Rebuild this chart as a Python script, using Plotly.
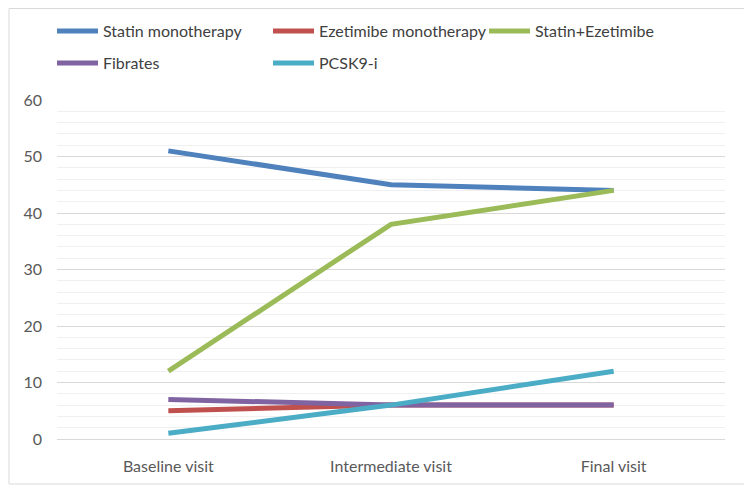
import plotly.graph_objects as go

visits = ["Baseline visit", "Intermediate visit", "Final visit"]

statin_mono = [51, 45, 44]
ezetimibe_mono = [5, 6, 6]
statin_ezetimibe = [12, 38, 44]
fibrates = [7, 6, 6]
pcsk9 = [1, 6, 12]

series = [
    ("Statin monotherapy", statin_mono, "#4F81BD", "legend"),
    ("Ezetimibe monotherapy", ezetimibe_mono, "#C0504D", "legend"),
    ("Statin+Ezetimibe", statin_ezetimibe, "#9BBB59", "legend"),
    ("Fibrates", fibrates, "#8064A2", "legend2"),
    ("PCSK9-i", pcsk9, "#4BACC6", "legend2"),
]

fig = go.Figure()
for name, vals, col, leg in series:
    fig.add_trace(go.Scatter(x=visits, y=vals, name=name, mode="lines", legend=leg,
                             line=dict(color=col, width=5)))

# page is shown with an 8px body margin, so everything is shifted back by 8
W, H = 744, 485
ml, mr, mt, mb = 49, 27, 92, 54
pw, ph = W - ml - mr, H - mt - mb

leg_common = dict(orientation="h", xanchor="left", yanchor="middle",
                  x=-5 / pw, entrywidth=160, itemwidth=41,
                  font=dict(size=16, color="#404040"), bgcolor="rgba(0,0,0,0)")

fig.update_layout(
    width=W, height=H,
    margin=dict(l=ml, r=mr, t=mt, b=mb, autoexpand=False),
    paper_bgcolor="white", plot_bgcolor="white",
    font=dict(family="Lato, Open Sans, sans-serif", size=16, color="#595959"),
    showlegend=True,
    legend=dict(y=1 + (mt - 23) / ph, **leg_common),
    legend2=dict(y=1 + (mt - 55) / ph, **leg_common),
    # outer chart frame
    shapes=[dict(type="rect", xref="paper", yref="paper",
                 x0=(1 - ml) / pw, x1=(738 - ml) / pw,
                 y0=-(476 - 431) / ph, y1=1 + (mt - 0.5) / ph,
                 line=dict(color="#d9d9d9", width=1), layer="below")],
)

fig.update_xaxes(type="category", range=[-0.5, 2.5], showgrid=False,
                 showline=True, linecolor="#d9d9d9", linewidth=1,
                 ticks="", ticklabelstandoff=13, tickfont=dict(size=16))
fig.update_yaxes(range=[0, 60], dtick=10, showgrid=True, gridcolor="#d9d9d9",
                 gridwidth=1, zeroline=False, showline=False, ticks="",
                 ticklabelstandoff=14, tickfont=dict(size=16),
                 minor=dict(dtick=2, showgrid=True, gridcolor="#f0f0f0", gridwidth=1))

fig.write_html("out.html")
